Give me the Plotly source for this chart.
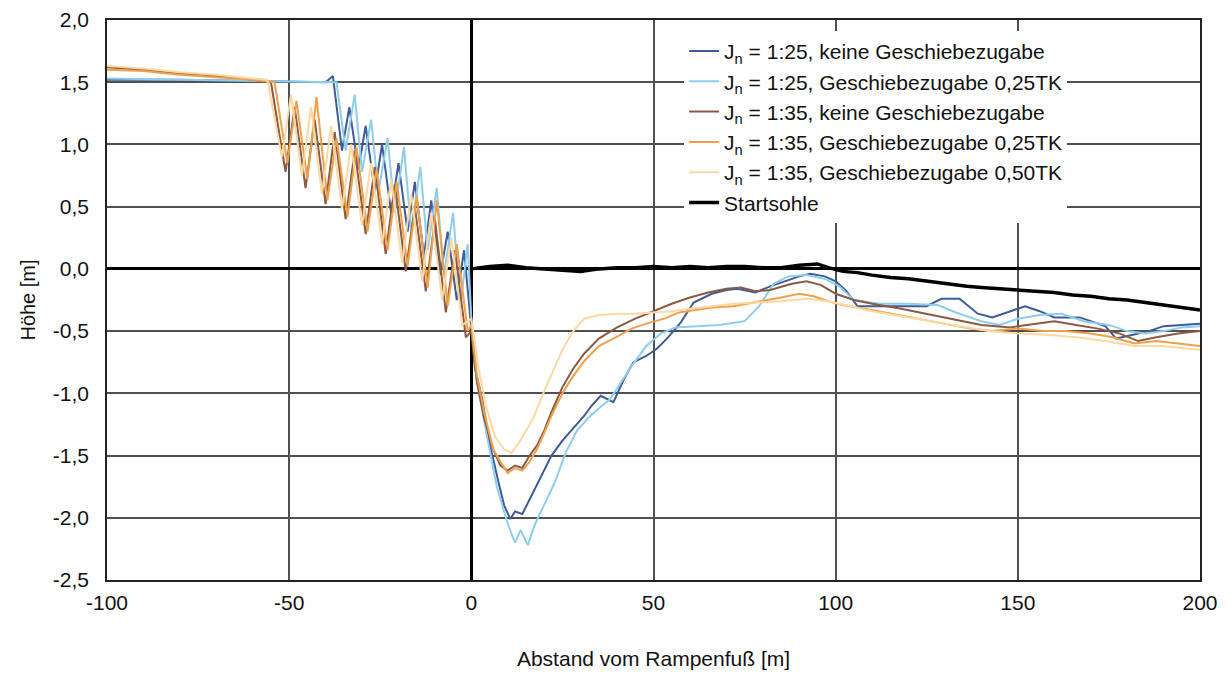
import plotly.graph_objects as go

# ---------------- data ----------------
s1_x = [-100, -80, -60, -45, -40, -38, -35.5, -33.5, -31, -29, -26.5, -24.5, -22, -20, -17.5, -15.5, -13, -11, -8.5, -6.5, -4, -2, 0,
        1, 3, 5, 7.5, 9, 10.7, 12, 14, 16.5, 19, 22, 25, 28.5, 31, 33, 35.5, 39, 42, 44.5, 48, 51, 54, 57.5, 61, 66, 70, 73, 78, 82,
        86, 90, 93, 97, 100, 103, 106, 115, 125, 129, 134, 139, 143, 148, 152, 156, 160, 167, 174, 177, 182, 186, 190, 195, 200]
s1_y = [1.52, 1.52, 1.51, 1.5, 1.5, 1.55, 0.95, 1.3, 0.8, 1.15, 0.62, 1.0, 0.45, 0.85, 0.3, 0.7, 0.1, 0.55, -0.05, 0.3, -0.25, 0.15, -0.5,
        -0.8, -1.05, -1.4, -1.72, -1.9, -2.01, -1.95, -1.97, -1.82, -1.68, -1.5, -1.38, -1.26, -1.18, -1.1, -1.02, -1.07, -0.88, -0.75,
        -0.7, -0.64, -0.55, -0.43, -0.27, -0.2, -0.17, -0.16, -0.19, -0.14, -0.1, -0.06, -0.04, -0.06, -0.1, -0.18, -0.3, -0.3, -0.3,
        -0.24, -0.24, -0.36, -0.39, -0.34, -0.3, -0.34, -0.39, -0.39, -0.46, -0.56, -0.53, -0.5, -0.46, -0.45, -0.44]

s2_x = [-100, -80, -60, -40, -37, -34.5, -32, -30, -27.5, -25.5, -23, -21, -18.5, -16.5, -14, -12, -9.5, -7.5, -5, -3, -1, 0,
        1.5, 4, 7, 10, 12, 13.5, 15.5, 17.5, 20, 23, 26, 29, 32, 35, 38, 41, 44, 48, 52, 56, 62, 68, 75, 79, 83, 87, 92, 97, 101, 105,
        112, 120, 128, 133, 140, 145, 150, 156, 162, 168, 175, 180, 185, 190, 195, 200]
s2_y = [1.53, 1.52, 1.51, 1.5, 1.5, 0.95, 1.4, 0.78, 1.2, 0.62, 1.05, 0.45, 0.98, 0.3, 0.82, 0.15, 0.65, -0.05, 0.45, -0.3, 0.2, -0.4,
        -0.9, -1.3, -1.75, -2.05, -2.2, -2.1, -2.22, -2.05, -1.9, -1.71, -1.47, -1.3, -1.2, -1.12, -1.05, -0.92, -0.78, -0.62, -0.52,
        -0.47, -0.46, -0.45, -0.42, -0.3, -0.12, -0.06, -0.05, -0.08, -0.14, -0.25, -0.28, -0.28, -0.29, -0.35, -0.42, -0.45, -0.4,
        -0.37, -0.36, -0.42, -0.45, -0.5, -0.52, -0.5, -0.47, -0.46]

s3_x = [-100, -90, -80, -70, -60, -55, -51, -48.5, -45.5, -43, -40, -37.5, -34.5, -32, -29, -26.5, -23.5, -21, -18, -15.5, -12.5, -10,
        -7, -4.5, -1.5, 0, 1.5, 3.5, 6, 8, 10, 12, 14, 16, 18, 20, 22, 25, 28, 31, 35, 40, 45, 50, 55, 60, 65, 70, 74, 78, 82, 88, 92,
        96, 100, 105, 110, 118, 125, 132, 140, 148, 155, 160, 166, 172, 178, 183, 188, 194, 200]
s3_y = [1.62, 1.6, 1.57, 1.55, 1.52, 1.5, 0.78, 1.3, 0.65, 1.2, 0.52, 1.1, 0.4, 0.95, 0.28, 0.82, 0.12, 0.68, -0.02, 0.5, -0.18, 0.4,
        -0.35, 0.15, -0.55, -0.5, -0.9, -1.2, -1.45, -1.58, -1.62, -1.58, -1.6, -1.5, -1.42, -1.3, -1.15, -0.95, -0.8, -0.68, -0.56,
        -0.47, -0.4, -0.34, -0.28, -0.23, -0.19, -0.16, -0.15, -0.18, -0.17, -0.12, -0.1, -0.13, -0.2, -0.25, -0.28, -0.32, -0.36,
        -0.4, -0.45, -0.47, -0.44, -0.42, -0.45, -0.48, -0.52, -0.58, -0.55, -0.52, -0.5]

s4_x = [-100, -90, -80, -70, -60, -54, -50.5, -48, -45, -42.5, -39.5, -37, -34, -31.5, -28.5, -26, -23, -20.5, -17.5, -15, -12, -9.5,
        -6.5, -4, -1, 0, 1.5, 3.5, 6, 8, 10, 12, 14, 16, 18, 20, 22, 25, 28, 31, 35, 39, 44, 48, 53, 57, 62, 66, 72, 76, 80, 85, 90,
        94, 98, 102, 108, 115, 122, 130, 137, 143, 150, 157, 163, 170, 176, 182, 188, 194, 200]
s4_y = [1.6, 1.59, 1.56, 1.54, 1.52, 1.5, 0.85, 1.35, 0.72, 1.38, 0.55, 1.05, 0.42, 0.98, 0.3, 0.8, 0.15, 0.7, 0.02, 0.58, -0.15, 0.55,
        -0.3, 0.2, -0.5, -0.45, -0.85, -1.15, -1.45, -1.55, -1.64, -1.6, -1.62, -1.55, -1.45, -1.32, -1.18, -1.0, -0.86, -0.74, -0.62,
        -0.56, -0.48, -0.44, -0.4, -0.35, -0.33, -0.31, -0.3, -0.28, -0.26, -0.23, -0.2, -0.22, -0.26, -0.29, -0.32, -0.36, -0.4,
        -0.44, -0.48, -0.5, -0.48, -0.5, -0.5, -0.52, -0.55, -0.6, -0.58, -0.6, -0.62]

s5_x = [-100, -90, -80, -70, -60, -56, -52, -49.5, -46.5, -44, -41, -38.5, -35.5, -33, -30, -27.5, -24.5, -22, -19, -16.5, -13.5, -11,
        -8, -5.5, -2.5, 0, 2, 4, 6.5, 9, 11, 13, 15, 17, 19, 22, 25, 28, 31, 35, 40, 45, 50, 55, 60, 66, 72, 78, 85, 92, 98, 104, 110,
        118, 126, 134, 142, 150, 158, 166, 174, 182, 190, 196, 200]
s5_y = [1.63, 1.61, 1.58, 1.56, 1.53, 1.52, 0.9, 1.4, 0.75, 1.3, 0.6, 1.15, 0.48, 1.0, 0.35, 0.85, 0.2, 0.72, 0.05, 0.6, -0.1, 0.45,
        -0.25, 0.25, -0.45, -0.4, -0.8, -1.1, -1.35, -1.45, -1.48, -1.4, -1.3, -1.2, -1.05, -0.85, -0.65, -0.5, -0.4, -0.37, -0.36,
        -0.36, -0.35, -0.34, -0.32, -0.3, -0.28, -0.27, -0.26, -0.24, -0.26, -0.3, -0.34, -0.38, -0.42, -0.46, -0.5, -0.52, -0.53,
        -0.55, -0.58, -0.62, -0.62, -0.64, -0.65]

start_x = [0, 5, 10, 15, 20, 25, 30, 35, 40, 45, 50, 55, 60, 65, 70, 75, 80, 85, 90, 95, 98, 102, 106, 110, 115, 120, 125, 128, 132,
           136, 140, 145, 150, 155, 160, 165, 170, 175, 180, 185, 190, 195, 200]
start_y = [0.0, 0.02, 0.03, 0.01, 0.0, -0.01, -0.02, 0.0, 0.01, 0.01, 0.02, 0.01, 0.02, 0.01, 0.02, 0.02, 0.01, 0.01, 0.03, 0.04, 0.01,
           -0.02, -0.03, -0.05, -0.07, -0.08, -0.1, -0.11, -0.13, -0.14, -0.15, -0.16, -0.17, -0.18, -0.19, -0.21, -0.22, -0.24,
           -0.25, -0.27, -0.29, -0.31, -0.33]

names = ["J<sub>n</sub> = 1:25, keine Geschiebezugabe",
         "J<sub>n</sub> = 1:25, Geschiebezugabe 0,25TK",
         "J<sub>n</sub> = 1:35, keine Geschiebezugabe",
         "J<sub>n</sub> = 1:35, Geschiebezugabe 0,25TK",
         "J<sub>n</sub> = 1:35, Geschiebezugabe 0,50TK",
         "Startsohle"]

x_tickvals = [-100, -50, 0, 50, 100, 150, 200]
x_ticktext = ["-100", "-50", "0", "50", "100", "150", "200"]
y_tickvals = [2.0, 1.5, 1.0, 0.5, 0.0, -0.5, -1.0, -1.5, -2.0, -2.5]
y_ticktext = ["2,0", "1,5", "1,0", "0,5", "0,0", "-0,5", "-1,0", "-1,5", "-2,0", "-2,5"]

colors = ["#3d5c98", "#8fcdec", "#8a5a44", "#f0a04a", "#fbd9a2", "#000000"]
widths = [2, 2, 2, 2, 2, 3.5]

xs = [s1_x, s2_x, s3_x, s4_x, s5_x, start_x]
ys = [s1_y, s2_y, s3_y, s4_y, s5_y, start_y]

FONT = "Liberation Sans, Arial, sans-serif"

fig = go.Figure()
for x, y, n, c, w in zip(xs, ys, names, colors, widths):
    fig.add_trace(go.Scatter(x=x, y=y, mode="lines", name=n,
                             line=dict(color=c, width=w)))

fig.update_layout(
    width=1228, height=673,
    margin=dict(l=107, r=28, t=20, b=93),
    paper_bgcolor="white", plot_bgcolor="white",
    font=dict(family=FONT, size=21, color="#111111"),
    showlegend=True,
    legend=dict(x=0.528, y=0.9806, xanchor="left", yanchor="top",
                bgcolor="white", borderwidth=0,
                font=dict(family=FONT, size=21, color="#111111"),
                tracegroupgap=0),
)
fig.update_xaxes(range=[-100, 200], tickvals=x_tickvals, ticktext=x_ticktext,
                 automargin=False,
                 showgrid=True, gridcolor="#505050", gridwidth=1.5,
                 zeroline=True, zerolinecolor="black", zerolinewidth=3,
                 showline=True, linecolor="#222222", linewidth=1.5, mirror=True,
                 ticks="outside", ticklen=3, tickcolor="rgba(0,0,0,0)",
                 title=dict(text="Abstand vom Rampenfuß [m]", standoff=38,
                            font=dict(family=FONT, size=21)))
fig.update_yaxes(range=[-2.5, 2.0], tickvals=y_tickvals, ticktext=y_ticktext,
                 automargin=False,
                 showgrid=True, gridcolor="#505050", gridwidth=1.5,
                 zeroline=True, zerolinecolor="black", zerolinewidth=3,
                 showline=True, linecolor="#222222", linewidth=1.5, mirror=True,
                 ticks="outside", ticklen=12, tickcolor="rgba(0,0,0,0)",
                 title=dict(text="Höhe [m]", standoff=12,
                            font=dict(family=FONT, size=20)))

fig.write_html("out.html")
